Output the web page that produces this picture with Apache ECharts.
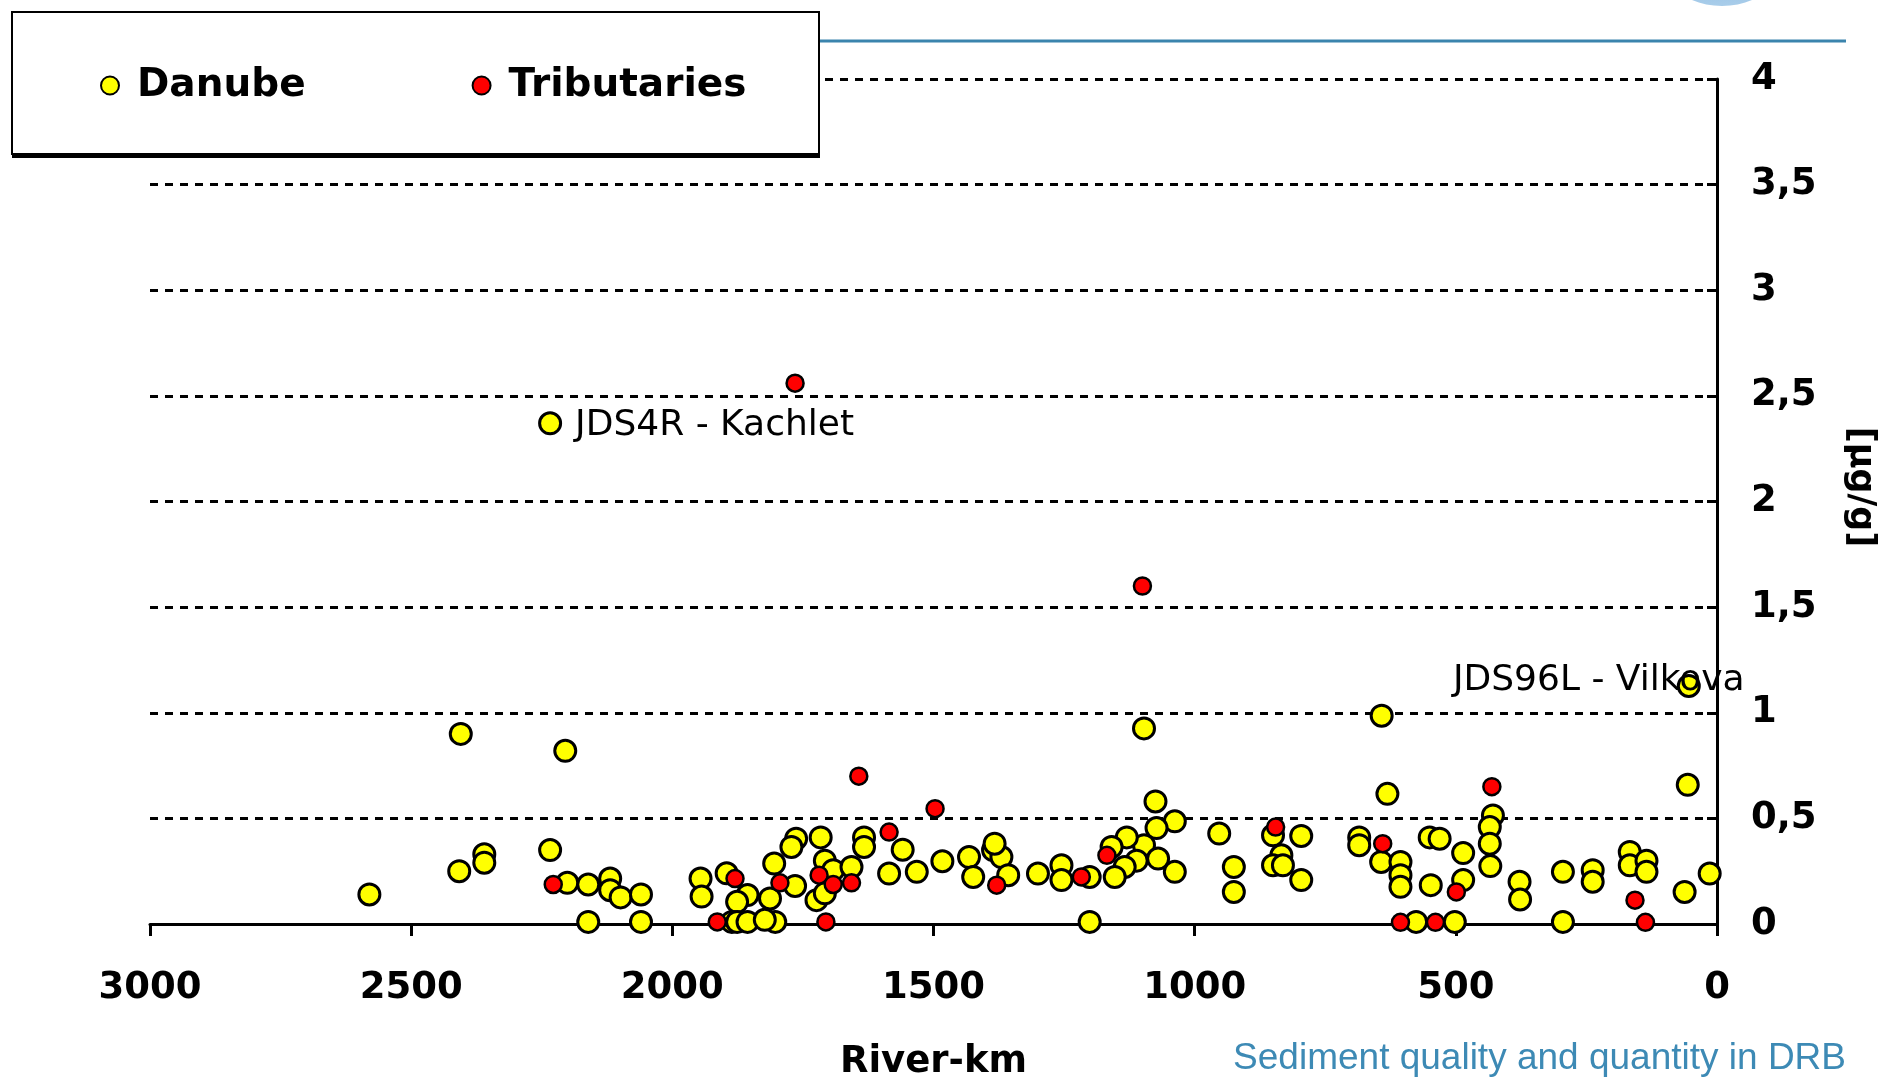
<!DOCTYPE html>
<html>
<head>
<meta charset="utf-8">
<script src="https://cdn.jsdelivr.net/npm/echarts@6/dist/echarts.min.js"></script>
<style>
html,body{margin:0;padding:0;background:#fff;}
#chart{width:1883px;height:1077px;}
</style>
</head>
<body>
<div id="chart"></div>
<script>
// River-km and concentration [µg/g]
var danubeKm = [2405,2205,2234,2580,2408,2360,2360,2234,2201,2161,2119,2119,2099,2060,2161,2060,
  1946,1944,1896,1856,1876,1813,1805,1765,1763,1772,1716,1633,1633,1559,1483,1585,1532,1708,1692,1657,1724,1708,1886,1876,1856,1803,1823,1432,1424,1386,
  1097,1075,1038,1073,1097,1130,1159,1070,1111,1134,1153,1038,1370,1383,1357,1300,1255,1255,1201,1201,953,925,925,850,796,834,850,831,796,
  642,631,429,685,685,643,606,606,606,550,531,486,435,435,434,548,486,378,377,295,238,238,167,167,135,135,576,502,295,
  54,56,14,62];
var danubeVal = [0.90,0.82,2.37,0.14,0.25,0.33,0.29,0.35,0.195,0.187,0.215,0.16,0.126,0.14,0.01,0.01,
  0.215,0.13,0.24,0.137,0.105,0.121,0.286,0.18,0.404,0.365,0.41,0.41,0.365,0.352,0.297,0.239,0.247,0.30,0.255,0.27,0.113,0.145,0.01,0.01,0.01,0.01,0.02,0.317,0.223,0.35,
  0.926,0.58,0.486,0.454,0.373,0.41,0.365,0.31,0.30,0.27,0.223,0.247,0.317,0.38,0.231,0.239,0.278,0.208,0.223,0.01,0.428,0.27,0.152,0.42,0.417,0.325,0.278,0.278,0.208,
  0.986,0.616,0.514,0.41,0.373,0.294,0.294,0.231,0.176,0.41,0.404,0.336,0.459,0.38,0.274,0.184,0.208,0.20,0.116,0.247,0.255,0.20,0.341,0.278,0.30,0.247,0.01,0.01,0.01,
  1.127,0.659,0.239,0.152];
var tribKm = [2228,1765,1100,1643,1497,1880,1794,1585,1719,1692,1657,1914,1706,1379,1168,1217,845,431,640,499,157,606,539,137];
var tribVal = [0.187,2.56,1.6,0.70,0.546,0.215,0.195,0.435,0.231,0.187,0.195,0.01,0.01,0.184,0.325,0.223,0.459,0.65,0.38,0.152,0.113,0.008,0.008,0.008];
var xTicks = [0,500,1000,1500,2000,2500,3000];
var yTickLabels = ['0','0,5','1','1,5','2','2,5','3','3,5','4'];
var seriesNames = ['Danube','Tributaries'];
var annotations = [{km:2234, minVal:2, text:'JDS4R - Kachlet'}, {km:54, minVal:1, text:'JDS96L - Vilkova'}];

var FONT = 'DejaVu Sans';
var danubeData = danubeKm.map(function(k,i){
  var d = {value:[k, danubeVal[i]]};
  annotations.forEach(function(a, j){
    if (a.km === k && danubeVal[i] > a.minVal) {
      d.label = j === 0 ?
        {show:true, formatter:a.text, position:'right', distance:13, offset:[0,2], color:'#000', fontFamily:FONT, fontSize:36} :
        {show:true, formatter:a.text, position:'inside', offset:[-90,-5], color:'#000', fontFamily:FONT, fontSize:36};
    }
  });
  return d;
});
var tribData = tribKm.map(function(k,i){ return [k, tribVal[i]]; });

var chart = echarts.init(document.getElementById('chart'), null, {renderer:'canvas'});
chart.setOption({
  animation:false,
  backgroundColor:'#fff',
  grid:{left:150, right:166, top:79, bottom:153, containLabel:false, outerBoundsMode:'none'},
  legend:{
    left:100, top:66, padding:0, z:20,
    itemWidth:44, itemHeight:18, itemGap:166,
    icon:'circle',
    textStyle:{fontFamily:FONT, fontWeight:'bold', fontSize:39, color:'#000'},
    data:seriesNames
  },
  xAxis:{
    type:'value', inverse:true, min:0, max:3000, interval:500,
    name:'River-km', nameLocation:'middle', nameGap:120,
    nameTextStyle:{fontFamily:FONT, fontWeight:'bold', fontSize:37, color:'#000'},
    axisLine:{show:true, lineStyle:{color:'#000', width:3}},
    axisTick:{show:true, inside:false, length:12, lineStyle:{color:'#000', width:3}},
    axisLabel:{margin:46, fontFamily:FONT, fontWeight:'bold', fontSize:37, color:'#000',
      formatter:function(v){ return xTicks.indexOf(v)>=0 ? String(v) : ''; }},
    splitLine:{show:false}
  },
  yAxis:{
    type:'value', position:'right', min:0, max:4, interval:0.5,
    axisLine:{show:true, onZero:false, lineStyle:{color:'#000', width:3}},
    axisTick:{show:true, inside:true, length:10, lineStyle:{color:'#000', width:3}},
    axisLabel:{margin:34, align:'left', padding:[8,0,0,0], fontFamily:FONT, fontWeight:'bold', fontSize:37, color:'#000',
      formatter:function(v){ return yTickLabels[Math.round(v/0.5)]; }},
    splitLine:{show:true, lineStyle:{color:'#000', width:3, type:[8,7]}}
  },
  series:[
    {name:seriesNames[0], type:'scatter', symbol:'circle', symbolSize:21, z:3,
      itemStyle:{color:'#ffff00', borderColor:'#000', borderWidth:3, opacity:1},
      data:danubeData},
    {name:seriesNames[1], type:'scatter', symbol:'circle', symbolSize:17, z:4,
      itemStyle:{color:'#ff0000', borderColor:'#000', borderWidth:2.5, opacity:1},
      data:tribData}
  ],
  graphic:[
    {type:'ellipse', z:1, shape:{cx:1722, cy:-42, rx:62, ry:48},
      style:{fill:new echarts.graphic.LinearGradient(0,0,0,1,[{offset:0,color:'#5d9bd0'},{offset:1,color:'#a9cdea'}])}},
    {type:'line', z:1, shape:{x1:820, y1:41, x2:1846, y2:41}, style:{stroke:'#3b84ad', lineWidth:3}},
    {type:'rect', z:10, shape:{x:12, y:14, width:808, height:144}, style:{fill:'#000'}},
    {type:'rect', z:11, shape:{x:12, y:12, width:807, height:142}, style:{fill:'#fff', stroke:'#000', lineWidth:2}},
    {type:'text', z:5, x:1860, y:487, rotation:-Math.PI/2,
      style:{text:'[µg/g]', fontFamily:FONT, fontWeight:'bold', fontSize:35, fill:'#000', align:'center', verticalAlign:'middle'}},
    {type:'text', z:5, x:1846, y:1059,
      style:{text:'Sediment quality and quantity in DRB', fontFamily:'Liberation Sans', fontSize:37, fill:'#3d8ab5', align:'right', verticalAlign:'middle'}}
  ]
});
</script>
</body>
</html>
